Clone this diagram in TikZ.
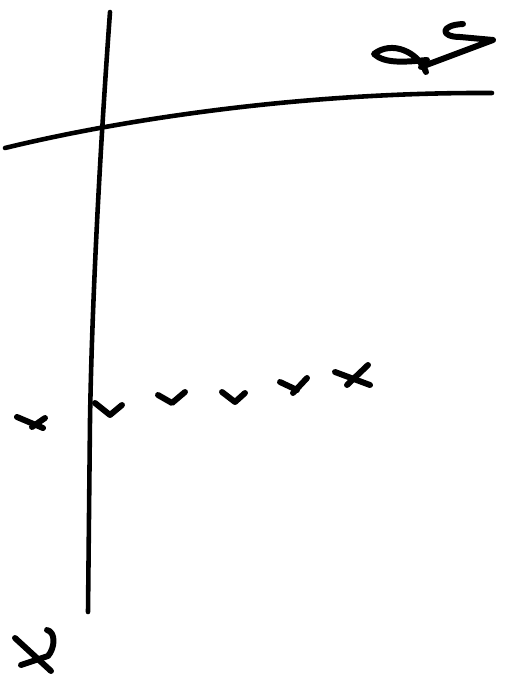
\documentclass[tikz,border=0pt]{standalone}
\begin{document}
\begin{tikzpicture}[x=0.02cm,y=-0.02cm,
  ink/.style={line width=2.6pt,line cap=round,line join=round},
  tick/.style={line width=3.4pt,line cap=round,line join=round}]
\useasboundingbox (0,0) rectangle (508,675);
% axes
\draw[ink] (110,12) .. controls (100,150) and (92,300) .. (90,420) -- (88,612);
\draw[ink] (5,148) .. controls (120,120) and (300,92) .. (492,93);
% label top right
\draw[tick] (463,24) .. controls (440,25) and (440,37) .. (460,37) -- (493,40) -- (421,67);
\draw[tick] (426,72) .. controls (418,52) and (392,40) .. (374,54) .. controls (385,64) and (405,62) .. (427,60);
% label bottom left
\draw[tick] (47,630) .. controls (56,632) and (55,648) .. (48,656) -- (21,665);
\draw[tick] (15,638) -- (51,671);
% marks
\draw[tick] (17,417) -- (43,428);
\draw[tick] (32,427) -- (45,418);
\draw[tick] (95,403) -- (110,415) -- (122,405);
\draw[tick] (158,395) -- (172,403) -- (185,392);
\draw[tick] (222,392) -- (235,402) -- (245,393);
\draw[tick] (280,382) -- (297,390);
\draw[tick] (307,378) -- (293,393);
\draw[tick] (335,372) -- (370,385);
\draw[tick] (368,365) -- (347,385);
\end{tikzpicture}
\end{document}
